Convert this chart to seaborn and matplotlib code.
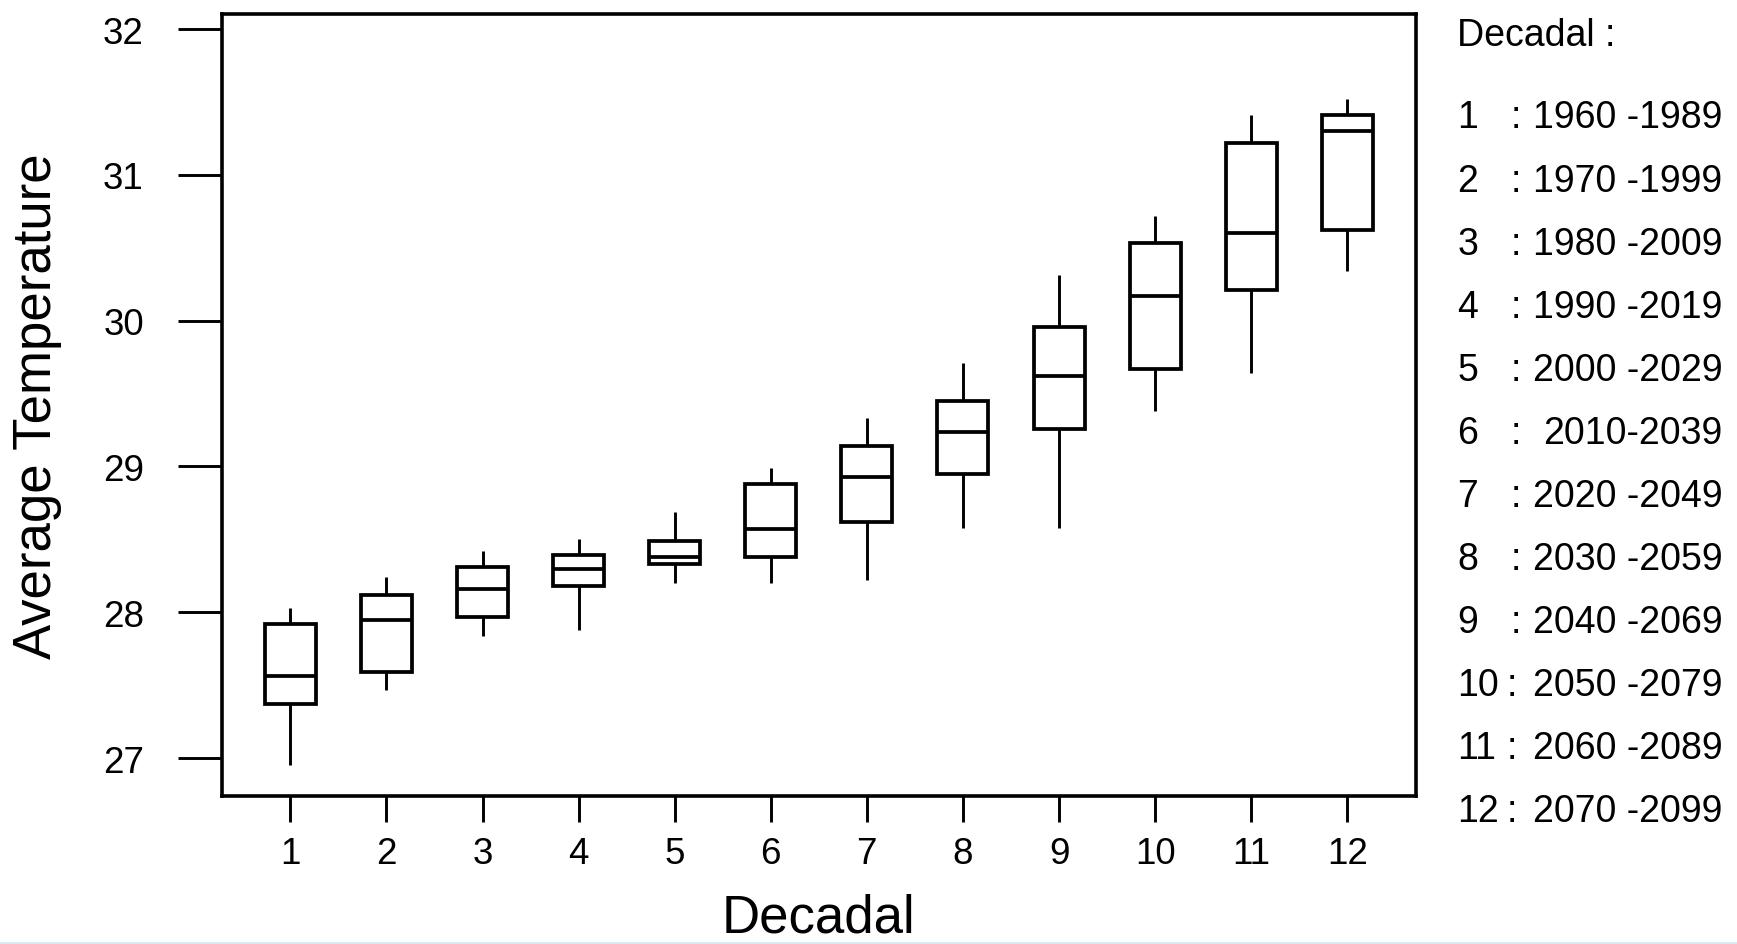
import numpy as np
import pandas as pd
import matplotlib
matplotlib.use("Agg")
import matplotlib.pyplot as plt
import seaborn as sns

# decadal windows and the box summary
decadal = [1, 2, 3, 4, 5, 6, 7, 8, 9, 10, 11, 12]
periods = ["1960 -1989", "1970 -1999", "1980 -2009", "1990 -2019",
           "2000 -2029", "2010-2039", "2020 -2049", "2030 -2059",
           "2040 -2069", "2050 -2079", "2060 -2089", "2070 -2099"]
t_min = [26.95, 27.47, 27.84, 27.88, 28.20, 28.20, 28.22, 28.58, 28.58, 29.38, 29.64, 30.34]
t_q1 = [27.37, 27.59, 27.97, 28.18, 28.33, 28.38, 28.62, 28.95, 29.26, 29.67, 30.21, 30.62]
t_med = [27.56, 27.95, 28.16, 28.30, 28.38, 28.57, 28.93, 29.24, 29.62, 30.17, 30.60, 31.30]
t_q3 = [27.92, 28.12, 28.31, 28.39, 28.49, 28.88, 29.14, 29.45, 29.96, 30.53, 31.22, 31.41]
t_max = [28.03, 28.24, 28.42, 28.50, 28.69, 28.99, 29.33, 29.71, 30.31, 30.72, 31.41, 31.52]

# five values per decade -> quartiles land on q1/median/q3, whiskers on min/max
rows = []
for d, lo, a, m, b, hi in zip(decadal, t_min, t_q1, t_med, t_q3, t_max):
    for v in (lo, a, m, b, hi):
        rows.append({"Decadal": d, "Average Temperature": v})
df = pd.DataFrame(rows)

sns.set_style("ticks")
plt.rcParams["font.family"] = ["Liberation Sans", "DejaVu Sans"]
plt.rcParams["text.color"] = "black"
plt.rcParams["axes.labelcolor"] = "black"
plt.rcParams["xtick.color"] = "black"
plt.rcParams["ytick.color"] = "black"

fig = plt.figure(figsize=(17.37, 9.45), dpi=100)
ax = fig.add_axes([0.1276, 0.1566, 0.6876, 0.827])

sns.boxplot(data=df, x="Decadal", y="Average Temperature", whis=(0, 100),
            width=0.53, showcaps=False, color="white", linecolor="black",
            linewidth=2.7, whiskerprops=dict(linewidth=2.1), ax=ax)

ax.set_xlim(-0.715, 11.715)
ax.set_ylim(26.74, 32.10)
ax.set_yticks([27, 28, 29, 30, 31, 32])
ax.set_yticklabels(["27", "28", "29", "30", "31", "32"])

for s in ax.spines.values():
    s.set_linewidth(2.6)
    s.set_color("black")
ax.tick_params(axis="y", direction="out", length=32, width=2.1, pad=24, labelsize=26.5)
ax.tick_params(axis="x", direction="out", length=19, width=2.1, pad=10, labelsize=26.5)

ax.set_xlabel("Decadal", fontsize=38)
ax.set_ylabel("Average Temperature", fontsize=38)
ax.xaxis.set_label_coords(0.5, -0.123)
ax.yaxis.set_label_coords(-0.134, 0.5)

# side key for the decade numbers
fig.text(0.839, 1 - 35.5 / 945, "Decadal :", fontsize=27, va="center", ha="left")
for i, (d, p) in enumerate(zip(decadal, periods)):
    y = 1 - (118.5 + i * 63.05) / 945
    fig.text(0.839, y, str(d), fontsize=27, va="center", ha="left")
    fig.text(0.8695 if d < 10 else 0.8675, y, ":", fontsize=27, va="center", ha="left")
    fig.text(0.9915, y, p, fontsize=27, va="center", ha="right")

fig.add_artist(plt.Line2D([0, 1], [0.0015, 0.0015], color="#d4e9f0", lw=2,
                          transform=fig.transFigure))

fig.savefig("out.png", dpi=100)
